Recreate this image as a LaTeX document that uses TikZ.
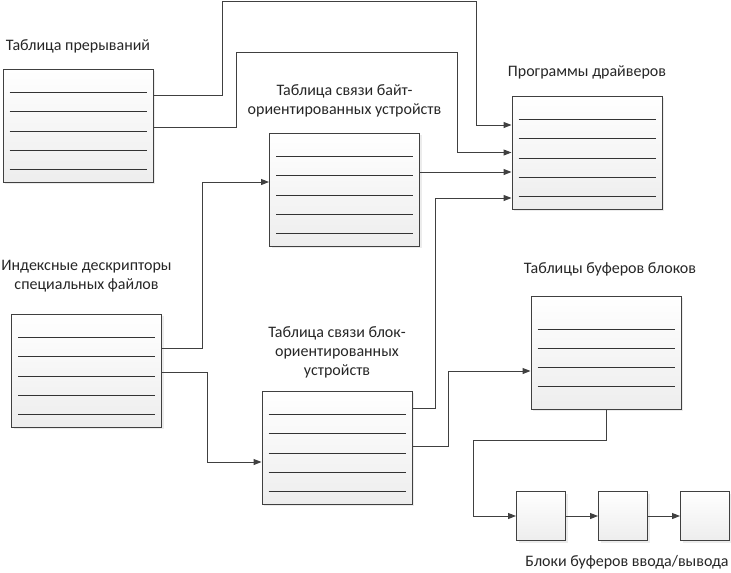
\documentclass[tikz,border=0pt]{standalone}
\usepackage{fontspec}
\setmainfont{Carlito}
\usetikzlibrary{arrows.meta,shadows,positioning}

\tikzset{
  tablebox/.style={draw=black!75, line width=1pt, top color=white, bottom color=black!7,
    drop shadow={opacity=0.15, shadow xshift=2pt, shadow yshift=-2pt},
    minimum width=150pt, minimum height=113pt, inner sep=0pt},
  cellbox/.style={tablebox, minimum width=49pt, minimum height=49pt},
  tablerow/.style={draw=black!80, line width=1pt},
  link/.style={draw=black!75, line width=1pt, -{Triangle[length=8pt,width=6pt]}},
  boxlabel/.style={font=\fontsize{16}{19.3}\selectfont, text=black!85, align=center, inner sep=0pt}
}

\begin{document}
\begin{tikzpicture}[x=1pt,y=-1pt]
		% tables
		\node[tablebox] (irq) at (78,125.5) {};
		\node[tablebox] (byte) at (344.5,189.5) {};
		\node[tablebox] (drv) at (587,152.5) {};
		\node[tablebox] (idx) at (86.5,370.5) {};
		\node[tablebox] (blk) at (337,447.5) {};
		\node[tablebox] (buf) at (606,352.5) {};
		% buffer blocks
		\node[cellbox] (b1) at (541,516) {};
		\node[cellbox, right=32pt of b1] (b2) {};
		\node[cellbox, right=32pt of b2] (b3) {};
		
		% rows inside the tables
		\foreach \n in {irq,byte,drv,idx,blk}
			\foreach \k in {0,...,4}
				\draw[tablerow] ([xshift=7pt,yshift={-(24+19.3*\k)*1pt}]\n.north west)
				-- ([xshift=-7pt,yshift={-(24+19.3*\k)*1pt}]\n.north east);
		\foreach \k in {0,...,3}
			\draw[tablerow] ([xshift=7pt,yshift={-(34+19*\k)*1pt}]buf.north west)
			-- ([xshift=-7pt,yshift={-(34+19*\k)*1pt}]buf.north east);
		
		% captions
		\node[boxlabel] (irqlabel) at ([yshift=22pt]irq.north) {Таблица прерываний};
		\node[boxlabel] (bytelabel) at ([yshift=31.5pt]byte.north) {Таблица связи байт-\\ориентированных устройств};
		\node[boxlabel] (drvlabel) at ([yshift=23pt]drv.north) {Программы драйверов};
		\node[boxlabel] (idxlabel) at ([yshift=37pt]idx.north) {Индексные дескрипторы\\специальных файлов};
		\node[boxlabel] (blklabel) at ([yshift=38pt]blk.north) {Таблица связи блок-\\ориентированных\\устройств};
		\node[boxlabel] (buflabel) at ([xshift=4pt,yshift=26pt]buf.north) {Таблицы буферов блоков};
		\node[boxlabel] (iolabel) at ([xshift=4pt,yshift=-21.5pt]b2.south) {Блоки буферов ввода/вывода};
		
		% connections
		\draw[link] ([yshift=30.5pt]irq.east) -- ++(69,0) |- (476,1) |- ([yshift=27.5pt]drv.west);
		\draw[link] ([yshift=-1.5pt]irq.east) -- ++(83,0) |- (457,52) |- (drv.west);
		\draw[link] ([yshift=17.5pt]byte.east) -- ([yshift=17.5pt]byte.east -| drv.west);
		\draw[link] ([yshift=39.5pt]blk.east) -- ++(23,0) |- ([yshift=-45.5pt]drv.west);
		\draw[link] ([yshift=22.5pt]idx.east) -- ++(40,0) |- ([yshift=7.5pt]byte.west);
		\draw[link] ([yshift=-1.5pt]idx.east) -- ++(45,0) |- ([yshift=-14.5pt]blk.west);
		\draw[link] ([yshift=1.5pt]blk.east) -- ++(36,0) |- ([yshift=-18.5pt]buf.west);
		\draw[link] (buf.south) |- (473,440) |- (b1.west);
		\draw[link] (b1) -- (b2);
		\draw[link] (b2) -- (b3);
		
		\useasboundingbox (0,0) rectangle (731,573);
	\end{tikzpicture}
\end{document}
